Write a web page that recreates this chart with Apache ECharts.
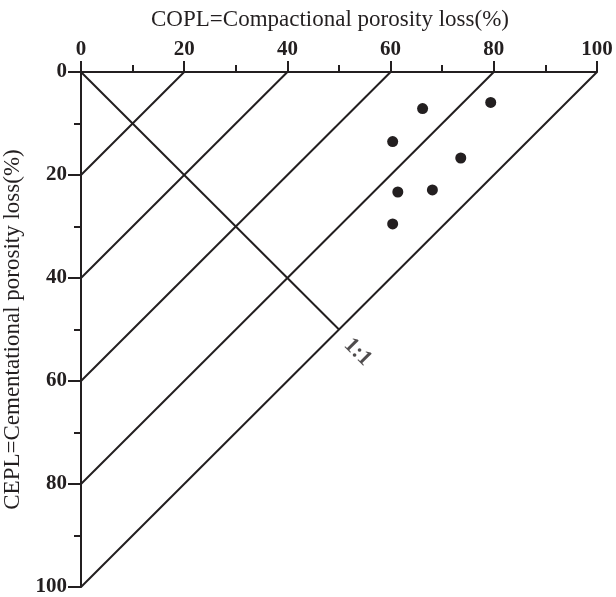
<!DOCTYPE html>
<html>
<head>
<meta charset="utf-8">
<script src="https://cdn.jsdelivr.net/npm/echarts@6/dist/echarts.min.js"></script>
<style>
  html, body { margin: 0; padding: 0; background: #fff; }
  #chart { width: 616px; height: 597px; }
</style>
</head>
<body>
<div id="chart"></div>
<script>
// 样品点 (COPL, CEPL)
var samplePoints = [
    [66.2, 7.1],
    [79.4, 5.9],
    [60.4, 13.5],
    [73.6, 16.7],
    [61.4, 23.3],
    [68.1, 22.9],
    [60.4, 29.5]
];
// 斜线 x + y = c
var diagonalValues = [20, 40, 60, 80, 100];
// 1:1 线
var oneToOne = [[0, 0], [50, 50]];
var oneToOneLabel = [[53.6, 54.4]];

var myChart = echarts.init(document.getElementById('chart'));
var ink = '#231f20';
var serif = '"Liberation Serif", "Times New Roman", serif';

var series = [];
diagonalValues.forEach(function (c) {
    series.push({
        type: 'line',
        data: [[c, 0], [0, c]],
        symbol: 'none',
        silent: true,
        lineStyle: {color: ink, width: 2}
    });
});
series.push({
    type: 'line',
    data: oneToOne,
    symbol: 'none',
    silent: true,
    lineStyle: {color: ink, width: 2}
});
series.push({
    type: 'scatter',
    data: oneToOneLabel,
    symbol: 'circle',
    symbolSize: 0,
    silent: true,
    label: {
        show: true,
        position: 'inside',
        formatter: '1:1',
        rotate: -45,
        color: ink,
        fontFamily: serif,
        fontWeight: 'bold',
        fontSize: 22
    }
});
series.push({
    type: 'scatter',
    data: samplePoints,
    symbolSize: 11,
    itemStyle: {color: ink, opacity: 1}
});

var option = {
    animation: false,
    grid: {left: 81, top: 72, right: 19, bottom: 10, containLabel: false, outerBoundsMode: 'none'},
    xAxis: {
        type: 'value',
        position: 'top',
        min: 0,
        max: 100,
        interval: 20,
        name: 'COPL=Compactional porosity loss(%)',
        nameLocation: 'middle',
        nameGap: 41,
        nameTextStyle: {color: ink, fontFamily: serif, fontSize: 23, padding: [0, 18, 0, 0]},
        axisLine: {show: true, lineStyle: {color: ink, width: 2}},
        axisTick: {show: true, length: 11, lineStyle: {color: ink, width: 2}},
        minorTick: {show: true, splitNumber: 2, length: 7, lineStyle: {color: ink, width: 2}},
        axisLabel: {color: ink, fontFamily: serif, fontWeight: 'bold', fontSize: 21, margin: 12},
        splitLine: {show: false}
    },
    yAxis: {
        type: 'value',
        inverse: true,
        min: 0,
        max: 100,
        interval: 20,
        name: 'CEPL=Cementational porosity loss(%)',
        nameLocation: 'middle',
        nameGap: 51,
        nameTextStyle: {color: ink, fontFamily: serif, fontSize: 23},
        axisLine: {show: true, lineStyle: {color: ink, width: 2}},
        axisTick: {show: true, length: 13, lineStyle: {color: ink, width: 2}},
        minorTick: {show: true, splitNumber: 2, length: 7, lineStyle: {color: ink, width: 2}},
        axisLabel: {color: ink, fontFamily: serif, fontWeight: 'bold', fontSize: 21, margin: 14},
        splitLine: {show: false}
    },
    series: series
};

myChart.setOption(option);
</script>
</body>
</html>
